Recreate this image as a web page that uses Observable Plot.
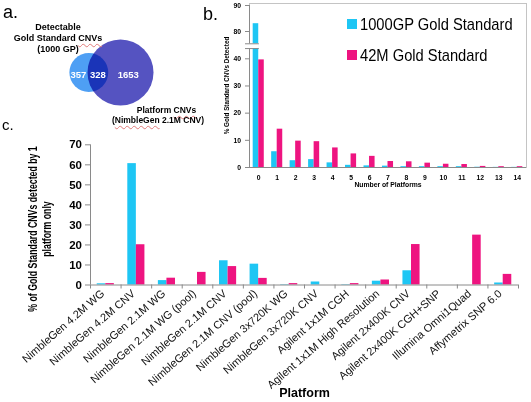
<!DOCTYPE html>
<html><head><meta charset="utf-8">
<script src="https://cdn.jsdelivr.net/npm/d3@7"></script>
<script src="https://cdn.jsdelivr.net/npm/@observablehq/plot@0.6"></script>
<style>
html,body{margin:0;padding:0;background:#fff;}
#fig{position:relative;width:531px;height:402px;overflow:hidden;font-family:"Liberation Sans",Arial,sans-serif;color:#000;background:#fff;}
#fig svg{position:absolute;overflow:visible;}
.lbl{position:absolute;white-space:nowrap;}
.sq{text-decoration:underline wavy #e07a7a;text-decoration-thickness:1px;text-underline-offset:1.5px;}
</style></head>
<body><div id="fig"></div>
<script>
// ---------- Data ----------
// Panel a: Venn counts
const onlyGold = 357;
const bothSets = 328;
const onlyPlatform = 1653;

// Shared series
const seriesNames = ["1000GP Gold Standard", "42M Gold Standard"];
const colors = ["#1ec6f4", "#ee1480"];

// Panel b: % of gold standard CNVs detected by N platforms
const nPlatforms = ["0", "1", "2", "3", "4", "5", "6", "7", "8", "9", "10", "11", "12", "13", "14"];
const b1000GP = [83.0, 5.8, 2.5, 2.9, 1.7, 0.8, 0.6, 0.5, 0.3, 0.3, 0.3, 0.3, 0.1, 0.05, 0.05];
const b42M    = [39.6, 14.1, 9.7, 9.5, 7.2, 5.0, 4.1, 2.2, 2.1, 1.6, 1.2, 1.1, 0.4, 0.3, 0.3];
const bTicks = [0, 10, 20, 30, 40, 80, 90];

// Panel c: % detected by 1 platform only
const platforms = ["NimbleGen 4.2M WG", "NimbleGen 4.2M CNV", "NimbleGen 2.1M WG", "NimbleGen 2.1M WG (pool)",
  "NimbleGen 2.1M CNV", "NimbleGen 2.1M CNV (pool)", "NimbleGen 3x720K WG", "NimbleGen 3x720K CNV",
  "Agilent 1x1M CGH", "Agilent 1x1M High Resolution", "Agilent 2x400K CNV", "Agilent 2x400K CGH+SNP",
  "Illumina Omni1Quad", "Affymetrix SNP 6.0"];
const c1000GP = [0.6, 60.6, 2.2, 0, 12.1, 10.4, 0.2, 1.5, 0.2, 1.9, 7.1, 0, 0, 1.0];
const c42M    = [0.7, 20.1, 3.4, 6.3, 9.2, 3.3, 0.7, 0, 0.7, 2.5, 20.2, 0, 24.9, 5.3];
const cTicks = [0, 10, 20, 30, 40, 50, 60, 70];

// ---------- Layout ----------
const fig = document.getElementById("fig");
const FONT = "Liberation Sans, Arial, sans-serif";
const AX = "#8a8a8a";

// ===== Panel c =====
const CL = 90, CR = 13, CT = 144.3, CB = 117.5;
const cW = 531 - CL - CR;
const pC = 0.44;
const stepC = cW / platforms.length, bwC = stepC * (1 - pC), bandStartC = stepC * pC / 2;
const dataC = platforms.flatMap((p, i) => [
  {p, s: seriesNames[0], v: c1000GP[i]},
  {p, s: seriesNames[1], v: c42M[i]}
]);
const p0 = platforms[0];
const cTickRows = cTicks.map(t => ({p: p0, t}));
const plotC = Plot.plot({
  width: 531, height: 402,
  marginLeft: CL, marginRight: CR, marginTop: CT, marginBottom: CB,
  style: {background: "transparent", fontFamily: FONT, color: "#000"},
  x: {type: "band", domain: platforms, paddingInner: pC, paddingOuter: pC / 2, round: false, axis: null},
  y: {domain: [0, 70], axis: null},
  color: {domain: seriesNames, range: colors},
  marks: [
    Plot.barY(dataC.filter(d => d.s === seriesNames[0]), {x: "p", y: "v", fill: "s", insetRight: bwC / 2}),
    Plot.barY(dataC.filter(d => d.s === seriesNames[1]), {x: "p", y: "v", fill: "s", insetLeft: bwC / 2}),
    Plot.ruleY([0], {stroke: AX}),
    Plot.ruleX([p0], {x: d => d, y1: () => 0, y2: () => 70, dx: -stepC / 2, stroke: AX}),
    Plot.ruleX(platforms, {x: d => d, y1: () => 0, y2: () => -2, dx: -stepC / 2, stroke: AX}),
    Plot.ruleX([platforms[platforms.length - 1]], {x: d => d, y1: () => 0, y2: () => -2, dx: stepC / 2, stroke: AX}),
    Plot.tickY(cTickRows, {x: "p", y: "t", insetLeft: -bandStartC - 5, insetRight: bandStartC + bwC, stroke: AX}),
    Plot.text(cTickRows, {x: "p", y: "t", text: d => String(d.t), textAnchor: "end",
      dx: -stepC / 2 - 8.5, fontSize: 11.5, fontWeight: "bold"}),
    Plot.text(platforms, {x: d => d, y: () => 0, text: d => d, rotate: -41, textAnchor: "end",
      dx: -3, dy: 7, fontSize: 11, fill: "#111"}),
    Plot.text(["Platform"], {frameAnchor: "bottom", dy: 112, fontSize: 12.5, fontWeight: "bold"})
  ]
});
plotC.style.left = "0px"; plotC.style.top = "0px";
fig.appendChild(plotC);

// Panel c y-axis title (two lines, rotated)
const yTitleC = document.createElement("div");
yTitleC.className = "lbl";
yTitleC.style.cssText = "left:40px;top:229px;font-weight:bold;font-size:12px;line-height:14px;text-align:center;transform:translate(-50%,-50%) rotate(-90deg) scaleX(0.73);transform-origin:center center;";
yTitleC.innerHTML = "% of Gold Standard CNVs detected by 1<br>platform only";
fig.appendChild(yTitleC);

// ===== Panel b =====
const BW = 331, BH = 195, BL = 49, BR = 5, BT = 3, BB = 28;
const bW = BW - BL - BR;
const pB = 0.4;
const stepB = bW / nPlatforms.length, bwB = stepB * (1 - pB), bandStartB = stepB * pB / 2;
const dataB = nPlatforms.flatMap((k, i) => [
  {k, s: seriesNames[0], v: b1000GP[i]},
  {k, s: seriesNames[1], v: b42M[i]}
]);
const k0 = nPlatforms[0];
const bTickRows = bTicks.map(t => ({k: k0, t}));
const breakRows = [{k: k0, a: 55, b: 62}];
const plotB = Plot.plot({
  width: BW, height: BH,
  marginLeft: BL, marginRight: BR, marginTop: BT, marginBottom: BB,
  style: {background: "transparent", fontFamily: FONT, color: "#000"},
  x: {type: "band", domain: nPlatforms, paddingInner: pB, paddingOuter: pB / 2, round: false, axis: null},
  y: {type: "linear", domain: [0, 40, 80, 90], range: [BH - BB, 58.3, 31, 5], axis: null},
  color: {domain: seriesNames, range: colors},
  marks: [
    Plot.frame({stroke: "#c4c4c4"}),
    Plot.barY(dataB.filter(d => d.s === seriesNames[0]), {x: "k", y: "v", fill: "s", insetRight: bwB / 2}),
    Plot.barY(dataB.filter(d => d.s === seriesNames[1]), {x: "k", y: "v", fill: "s", insetLeft: bwB / 2}),
    // axis break
    Plot.barY(breakRows, {x: "k", y1: "a", y2: "b", fill: "white",
      insetLeft: -bandStartB - 4, insetRight: bwB / 2 - 0.6}),
    Plot.ruleY([0], {stroke: AX}),
    Plot.ruleX(breakRows, {x: "k", y1: () => 0, y2: "a", dx: -stepB / 2, stroke: AX}),
    Plot.ruleX(breakRows, {x: "k", y1: "b", y2: () => 90, dx: -stepB / 2, stroke: AX}),
    Plot.tickY(breakRows, {x: "k", y: "a", insetLeft: -bandStartB - 4, insetRight: bwB / 2 - 0.6, stroke: AX}),
    Plot.tickY(breakRows, {x: "k", y: "b", insetLeft: -bandStartB - 4, insetRight: bwB / 2 - 0.6, stroke: AX}),
    Plot.tickY(bTickRows, {x: "k", y: "t", insetLeft: -bandStartB - 4, insetRight: bandStartB + bwB, stroke: AX}),
    Plot.text(bTickRows, {x: "k", y: "t", text: d => String(d.t), textAnchor: "end",
      dx: -stepB / 2 - 8.5, fontSize: 6.8, fontWeight: "bold"}),
    Plot.text(nPlatforms, {x: d => d, y: () => 0, text: d => d, dy: 10, fontSize: 6.8, fontWeight: "bold"}),
    Plot.text(["Number of Platforms"], {frameAnchor: "bottom", dy: 19, fontSize: 6.8, fontWeight: "bold"}),
    Plot.text(["% Gold Standard CNVs Detected"], {frameAnchor: "left", textAnchor: "middle", dx: -22.5, rotate: -90, fontSize: 6.3, fontWeight: "bold"})
  ]
});
plotB.style.left = "200px"; plotB.style.top = "0px";
fig.appendChild(plotB);

// Panel b legend
seriesNames.forEach((name, i) => {
  const sw = document.createElement("div");
  sw.className = "lbl";
  sw.style.cssText = `left:346.7px;top:${19.3 + i * 30.5}px;width:10px;height:10px;background:${colors[i]};`;
  fig.appendChild(sw);
  const tx = document.createElement("div");
  tx.className = "lbl";
  tx.style.cssText = `left:360px;top:${16.3 + i * 30.5}px;font-size:17px;line-height:17px;transform:scaleX(0.865);transform-origin:left center;`;
  tx.textContent = name;
  fig.appendChild(tx);
});

// ===== Panel a: Venn =====
const rG = Math.sqrt((onlyGold + bothSets) / Math.PI);
const rP = Math.sqrt((bothSets + onlyPlatform) / Math.PI);
function lens(d, a, b) {
  if (d >= a + b) return 0;
  if (d <= Math.abs(a - b)) return Math.PI * Math.min(a, b) ** 2;
  const a1 = Math.acos((d * d + a * a - b * b) / (2 * d * a));
  const b1 = Math.acos((d * d + b * b - a * a) / (2 * d * b));
  return a * a * a1 + b * b * b1 - 0.5 * Math.sqrt((-d + a + b) * (d + a - b) * (d - a + b) * (d + a + b));
}
let lo = Math.abs(rP - rG), hi = rP + rG;
for (let k = 0; k < 80; k++) { const m = (lo + hi) / 2; if (lens(m, rG, rP) > bothSets) lo = m; else hi = m; }
const dist = (lo + hi) / 2;
const RPX = 33, PX = RPX / rP, VX = 120, VY = 72;
const circles = [
  {name: "gold", cx: -dist, r: rG},
  {name: "platform", cx: 0, r: rP}
];
const vennNums = [
  {t: String(onlyGold), x: ((-dist - rG) + (-rP)) / 2},
  {t: String(bothSets), x: ((-rP) + (-dist + rG)) / 2},
  {t: String(onlyPlatform), x: ((-dist + rG) + rP) / 2 - 2}
];
const plotA = Plot.plot({
  width: 200, height: 130, margin: 0,
  style: {background: "transparent", fontFamily: FONT},
  x: {domain: [-60, 60], range: [VX - 60 * PX, VX + 60 * PX], axis: null},
  y: {domain: [-60, 60], range: [VY + 60 * PX, VY - 60 * PX], axis: null},
  r: {type: "linear", domain: [0, rP], range: [0, RPX]},
  marks: [
    Plot.dot(circles.filter(c => c.name === "gold"), {x: "cx", y: () => 0, r: "r", fill: "#4e9ff4"}),
    Plot.dot(circles.filter(c => c.name === "platform"), {x: "cx", y: () => 0, r: "r", fill: "#5553c1", mixBlendMode: "multiply"}),
    Plot.text(vennNums, {x: "x", y: () => 0, text: "t", dy: 2, fill: "white", fontWeight: "bold", fontSize: 9.5})
  ]
});
plotA.style.left = "0px"; plotA.style.top = "0px";
fig.appendChild(plotA);

function addLabel(html, css) {
  const el = document.createElement("div");
  el.className = "lbl";
  el.style.cssText = css;
  el.innerHTML = html;
  fig.appendChild(el);
}
addLabel('Detectable<br>Gold Standard <span class="sq">CNVs</span><br>(1000 GP)',
  "left:-2px;top:22.4px;width:120px;text-align:center;font-weight:bold;font-size:9px;line-height:11px;");
addLabel('Platform <span class="sq">CNVs</span>',
  "left:106.5px;top:104.8px;width:120px;text-align:center;font-weight:bold;font-size:8.5px;line-height:10.5px;");
addLabel('(<span class="sq">NimbleGen</span> 2.1M CNV)',
  "left:98px;top:115.3px;width:120px;text-align:center;font-weight:bold;font-size:8.5px;line-height:10.5px;");

// Panel letters
addLabel("a.", "left:3px;top:2.7px;font-size:18px;line-height:18px;");
addLabel("b.", "left:203px;top:4.7px;font-size:18px;line-height:18px;");
addLabel("c.", "left:2px;top:117.3px;font-size:15px;line-height:15px;");
</script>
</body></html>
